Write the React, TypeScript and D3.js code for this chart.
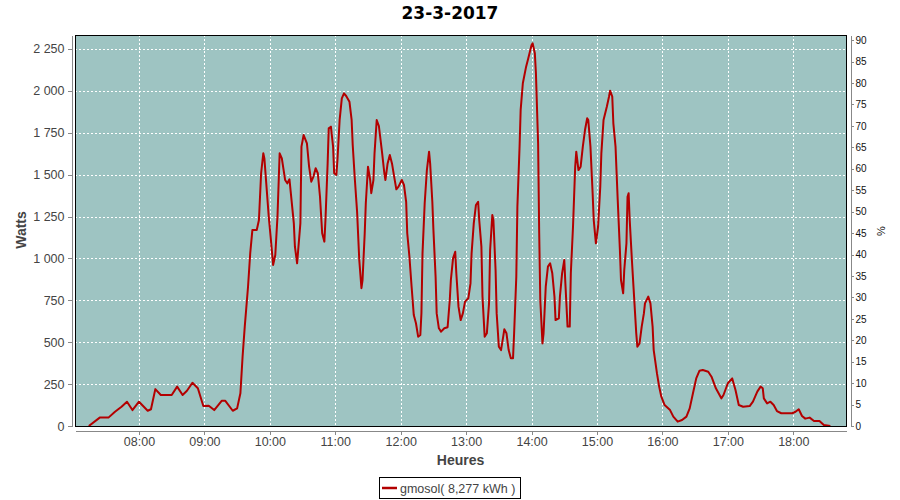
import React, { useRef, useEffect } from "react";
import * as d3 from "d3";

const chartTitle = "23-3-2017";
const legendLabel = "gmosol( 8,277 kWh )";

// one sample every few minutes
const times = [
  "07:14", "07:24", "07:32", "07:38", "07:44", "07:49", "07:54", "08:00", "08:08", "08:11",
  "08:15", "08:20", "08:30", "08:35", "08:40", "08:44", "08:49", "08:54", "08:59", "09:04",
  "09:09", "09:16", "09:19", "09:26", "09:30", "09:33", "09:35", "09:37", "09:40", "09:42",
  "09:44", "09:48", "09:50", "09:52", "09:54", "09:55", "09:59", "10:01", "10:03", "10:05",
  "10:07", "10:09", "10:11", "10:14", "10:16", "10:18", "10:22", "10:23", "10:25", "10:28",
  "10:29", "10:31", "10:34", "10:36", "10:38", "10:40", "10:42", "10:44", "10:46", "10:48",
  "10:50", "10:51", "10:53", "10:54", "10:56", "10:58", "10:59", "11:01", "11:02", "11:04",
  "11:06", "11:08", "11:10", "11:13", "11:15", "11:16", "11:18", "11:20", "11:22", "11:24",
  "11:25", "11:27", "11:28", "11:30", "11:32", "11:33", "11:35", "11:36", "11:38", "11:40",
  "11:43", "11:45", "11:46", "11:48", "11:50", "11:52", "11:54", "11:56", "11:58", "12:01",
  "12:03", "12:05", "12:06", "12:08", "12:10", "12:12", "12:14", "12:16", "12:18", "12:19",
  "12:20", "12:22", "12:24", "12:26", "12:27", "12:29", "12:30", "12:32", "12:33", "12:35",
  "12:37", "12:40", "12:43", "12:45", "12:46", "12:48", "12:50", "12:51", "12:53", "12:55",
  "12:57", "12:59", "13:02", "13:04", "13:05", "13:07", "13:09", "13:11", "13:12", "13:14",
  "13:15", "13:17", "13:19", "13:21", "13:22", "13:24", "13:25", "13:27", "13:28", "13:30",
  "13:32", "13:34", "13:35", "13:37", "13:39", "13:41", "13:43", "13:44", "13:46", "13:47",
  "13:49", "13:50", "13:52", "13:55", "13:57", "14:00", "14:01", "14:03", "14:04", "14:06",
  "14:07", "14:08", "14:10", "14:11", "14:13", "14:15", "14:17", "14:19", "14:21", "14:22",
  "14:25", "14:26", "14:28", "14:30", "14:31", "14:33", "14:35", "14:36", "14:38", "14:40",
  "14:41", "14:43", "14:45", "14:47", "14:49", "14:51", "14:52", "14:54", "14:56", "14:57",
  "14:59", "15:01", "15:03", "15:04", "15:06", "15:09", "15:11", "15:12", "15:14", "15:15",
  "15:17", "15:18", "15:19", "15:21", "15:22", "15:24", "15:25", "15:27", "15:28", "15:29",
  "15:30", "15:32", "15:34", "15:36", "15:37", "15:39", "15:41", "15:43", "15:44", "15:47",
  "15:49", "15:51", "15:52", "15:55", "15:57", "15:59", "16:02", "16:07", "16:10", "16:14",
  "16:18", "16:22", "16:25", "16:28", "16:31", "16:34", "16:37", "16:42", "16:45", "16:49",
  "16:54", "16:56", "17:00", "17:04", "17:07", "17:10", "17:14", "17:20", "17:23", "17:27",
  "17:30", "17:32", "17:33", "17:36", "17:39", "17:42", "17:45", "17:49", "17:59", "18:02",
  "18:05", "18:08", "18:11", "18:15", "18:19", "18:24", "18:28", "18:34",
];

const watts = [
  0, 50, 50, 85, 115, 145, 95, 145, 91, 100,
  220, 185, 185, 235, 185, 210, 258, 225, 119, 121,
  95, 151, 151, 91, 105, 195, 413, 593, 831, 1030,
  1170, 1170, 1229, 1508, 1627, 1597, 1249, 1110, 961, 1020,
  1249, 1627, 1597, 1468, 1448, 1472, 1209, 1070, 971, 1209,
  1667, 1736, 1687, 1547, 1458, 1488, 1538, 1508, 1368, 1150,
  1100, 1229, 1567, 1776, 1786, 1667, 1508, 1498, 1587, 1826,
  1955, 1985, 1969, 1935, 1826, 1677, 1468, 1279, 991, 822,
  871, 1150, 1329, 1547, 1468, 1389, 1468, 1627, 1826, 1790,
  1627, 1508, 1468, 1567, 1617, 1567, 1488, 1412, 1428, 1468,
  1438, 1338, 1150, 1010, 831, 662, 613, 533, 543, 672,
  1030, 1329, 1527, 1637, 1567, 1338, 1170, 891, 672, 583,
  563, 583, 589, 752, 871, 1000, 1040, 911, 712, 632,
  672, 742, 762, 851, 1030, 1209, 1319, 1338, 1229, 1070,
  772, 533, 553, 732, 1050, 1259, 1229, 931, 672, 473,
  453, 533, 577, 553, 453, 404, 404, 553, 891, 1309,
  1667, 1886, 2045, 2144, 2194, 2273, 2283, 2224, 2105, 1687,
  1150, 752, 493, 553, 831, 951, 971, 911, 772, 632,
  642, 772, 911, 991, 851, 593, 593, 911, 1189, 1547,
  1637, 1527, 1547, 1667, 1766, 1836, 1826, 1667, 1389, 1229,
  1090, 1189, 1428, 1627, 1826, 1905, 1965, 2001, 1965, 1806,
  1667, 1508, 1349, 1050, 871, 792, 931, 1090, 1368, 1389,
  1229, 991, 772, 553, 473, 493, 593, 672, 732, 772,
  732, 593, 453, 314, 235, 175, 125, 95, 56, 26,
  36, 56, 105, 195, 284, 330, 334, 324, 294, 225,
  165, 185, 255, 284, 215, 125, 115, 119, 145, 205,
  235, 225, 165, 135, 145, 125, 89, 76, 76, 85,
  100, 60, 44, 50, 30, 30, 6, 0,
];

const hourTicks = [
  "08:00", "09:00", "10:00", "11:00", "12:00", "13:00",
  "14:00", "15:00", "16:00", "17:00", "18:00",
];
const wattTicks = [0, 250, 500, 750, 1000, 1250, 1500, 1750, 2000, 2250];
const pctTicks = [0, 5, 10, 15, 20, 25, 30, 35, 40, 45, 50, 55, 60, 65, 70, 75, 80, 85, 90];
const timeRange = ["07:01:20", "18:48:20"];
const wattMax = 2333;
const pctMax = 91.2;

const App: React.FC = () => {
  const svgRef = useRef<SVGSVGElement | null>(null);

  useEffect(() => {
    const svg = d3.select(svgRef.current);
    svg.selectAll("*").remove();

    const left = 75;
    const right = 846;
    const top = 35;
    const bottom = 426;
    const font = "'Liberation Sans', Arial, sans-serif";
    const lineColor = "#b30000";

    const day = "2017-03-23 ";
    const parse = d3.timeParse("%Y-%m-%d %H:%M");
    const parseSec = d3.timeParse("%Y-%m-%d %H:%M:%S");
    const data = times.map((t, i) => ({ t: parse(day + t) as Date, w: watts[i] }));

    const x = d3
      .scaleTime()
      .domain([parseSec(day + timeRange[0]) as Date, parseSec(day + timeRange[1]) as Date])
      .range([left, right]);
    const y = d3.scaleLinear().domain([0, wattMax]).range([bottom, top]);
    const yPct = d3.scaleLinear().domain([0, pctMax]).range([bottom, top]);

    const locale = d3.formatLocale({
      decimal: ",",
      thousands: " ",
      grouping: [3],
      currency: ["", ""],
    });
    const fmtW = locale.format(",d");

    svg.append("rect").attr("width", 900).attr("height", 500).attr("fill", "#ffffff");

    // title
    svg
      .append("text")
      .attr("x", 450)
      .attr("y", 19)
      .attr("text-anchor", "middle")
      .attr("font-family", "'DejaVu Sans', sans-serif")
      .attr("font-weight", "bold")
      .attr("font-size", 17)
      .attr("fill", "#000")
      .text(chartTitle);

    // plot background
    svg
      .append("rect")
      .attr("x", left)
      .attr("y", top)
      .attr("width", right - left)
      .attr("height", bottom - top)
      .attr("fill", "#9ec4c2");

    // grid
    const grid = svg.append("g").attr("stroke", "#ffffff").attr("stroke-width", 1)
      .attr("stroke-dasharray", "2,2").attr("shape-rendering", "crispEdges");
    hourTicks.forEach((h) => {
      const px = Math.round(x(parse(day + h) as Date)) + 0.5;
      grid.append("line").attr("x1", px).attr("x2", px).attr("y1", top).attr("y2", bottom);
    });
    wattTicks.forEach((v) => {
      const py = Math.round(y(v)) + 0.5;
      grid.append("line").attr("x1", left).attr("x2", right).attr("y1", py).attr("y2", py);
    });

    // series
    svg
      .append("clipPath")
      .attr("id", "plot-clip")
      .append("rect")
      .attr("x", left)
      .attr("y", top)
      .attr("width", right - left)
      .attr("height", bottom - top);

    const line = d3
      .line<{ t: Date; w: number }>()
      .x((d) => x(d.t))
      .y((d) => y(d.w));

    svg
      .append("path")
      .datum(data)
      .attr("clip-path", "url(#plot-clip)")
      .attr("fill", "none")
      .attr("stroke", lineColor)
      .attr("stroke-width", 2)
      .attr("stroke-linejoin", "round")
      .attr("d", line);

    // plot border
    svg
      .append("rect")
      .attr("x", left + 0.5)
      .attr("y", top + 0.5)
      .attr("width", right - left)
      .attr("height", bottom - top)
      .attr("fill", "none")
      .attr("stroke", "#000")
      .attr("stroke-width", 1);

    const styleAxis = (g: any, size: number, color: string) => {
      g.select(".domain").attr("stroke", "#888").attr("shape-rendering", "crispEdges");
      g.selectAll(".tick line").attr("stroke", "#888").attr("shape-rendering", "crispEdges");
      g.selectAll(".tick text")
        .attr("font-family", font)
        .attr("font-size", size)
        .attr("fill", color);
    };

    // left axis
    const gLeft = svg
      .append("g")
      .attr("transform", `translate(${left - 3.5},0)`)
      .call(
        d3.axisLeft(y).tickValues(wattTicks).tickFormat((d) => fmtW(d as number))
          .tickSizeInner(4).tickSizeOuter(0).tickPadding(3)
      );
    styleAxis(gLeft, 12.5, "#444");

    // right axis
    const gRight = svg
      .append("g")
      .attr("transform", `translate(${right + 4.5},0)`)
      .call(d3.axisRight(yPct).tickValues(pctTicks).tickSizeInner(3).tickSizeOuter(0).tickPadding(2));
    styleAxis(gRight, 10, "#111");

    // bottom axis
    const gBottom = svg
      .append("g")
      .attr("transform", `translate(0,${bottom + 4.5})`)
      .call(
        d3.axisBottom(x)
          .tickValues(hourTicks.map((h) => parse(day + h) as Date))
          .tickFormat(d3.timeFormat("%H:%M") as any)
          .tickSizeInner(4).tickSizeOuter(0).tickPadding(3)
      );
    styleAxis(gBottom, 12.5, "#444");

    // axis titles
    svg
      .append("text")
      .attr("transform", "translate(25.5,230) rotate(-90)")
      .attr("text-anchor", "middle")
      .attr("font-family", font)
      .attr("font-weight", "bold")
      .attr("font-size", 14)
      .attr("fill", "#444")
      .text("Watts");

    svg
      .append("text")
      .attr("x", (left + right) / 2)
      .attr("y", 465)
      .attr("text-anchor", "middle")
      .attr("font-family", font)
      .attr("font-weight", "bold")
      .attr("font-size", 14)
      .attr("fill", "#444")
      .text("Heures");

    svg
      .append("text")
      .attr("transform", "translate(885,231) rotate(-90)")
      .attr("text-anchor", "middle")
      .attr("font-family", font)
      .attr("font-size", 11)
      .attr("fill", "#111")
      .text("%");

    // legend
    const lg = svg.append("g");
    lg.append("rect")
      .attr("x", 379.5)
      .attr("y", 477.5)
      .attr("width", 141)
      .attr("height", 21)
      .attr("fill", "#fff")
      .attr("stroke", "#000");
    lg.append("line")
      .attr("x1", 382)
      .attr("x2", 397)
      .attr("y1", 488)
      .attr("y2", 488)
      .attr("stroke", lineColor)
      .attr("stroke-width", 2.5);
    lg.append("text")
      .attr("x", 400)
      .attr("y", 493)
      .attr("font-family", font)
      .attr("font-size", 12.5)
      .attr("fill", "#444")
      .text(legendLabel);
  }, []);

  return (
    <svg
      ref={svgRef}
      width={900}
      height={500}
      style={{ position: "absolute", left: 0, top: 0 }}
    />
  );
};

export default App;
